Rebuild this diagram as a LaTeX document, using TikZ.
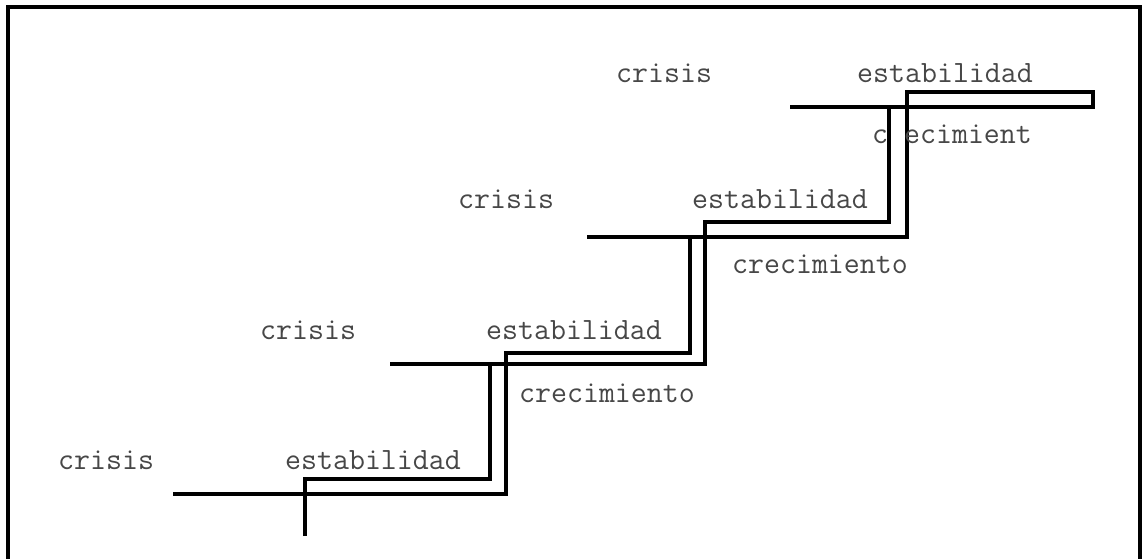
\documentclass[tikz,border=0pt]{standalone}
\usepackage{fontspec}
\begin{document}
\begin{tikzpicture}[x=1pt,y=-1pt,
  stair/.style={line width=3.2pt, line join=miter},
  frameline/.style={line width=3.2pt},
  lbl/.style={font=\ttfamily\fontsize{31}{34}\selectfont, text=black!72, anchor=base west, inner sep=0pt}]
\useasboundingbox (0,0) rectangle (1146,558);
% frame (open at the bottom)
\coordinate (fbl) at (8,562);
\coordinate (ftl) at (8,7);
\coordinate (ftr) at (1140,7);
\coordinate (fbr) at (1140,562);
\draw[frameline] (fbl) -- (ftl) -- (ftr) -- (fbr);
% stair corners
\coordinate (a0) at (305,536);
\coordinate (a1) at (305,479);
\coordinate (a2) at (490,479);
\coordinate (a3) at (490,364);
\coordinate (b0) at (173,494);
\coordinate (b1) at (506,494);
\coordinate (b2) at (506,353);
\coordinate (b3) at (690,353);
\coordinate (b4) at (690,237);
\coordinate (c0) at (390,364);
\coordinate (c1) at (705,364);
\coordinate (c2) at (705,222);
\coordinate (c3) at (889,222);
\coordinate (c4) at (889,107);
\coordinate (d0) at (587,237);
\coordinate (d1) at (907,237);
\coordinate (d2) at (907,92);
\coordinate (d3) at (1093,92);
\coordinate (d4) at (1093,107);
\coordinate (d5) at (790,107);
\draw[stair] (a0) -- (a1) -- (a2) -- (a3);
\draw[stair] (b0) -- (b1) -- (b2) -- (b3) -- (b4);
\draw[stair] (c0) -- (c1) -- (c2) -- (c3) -- (c4);
\draw[stair] (d0) -- (d1) -- (d2) -- (d3) -- (d4) -- (d5);
% labels
\node[lbl] (crisis1) at (58,469) {crisis};
\node[lbl] (estab1) at (285,469) {estabilidad};
\node[lbl] (crisis2) at (260,339) {crisis};
\node[lbl] (estab2) at (486,339) {estabilidad};
\node[lbl] (crec2) at (519,402) {crecimiento};
\node[lbl] (crisis3) at (458,208) {crisis};
\node[lbl] (estab3) at (692,208) {estabilidad};
\node[lbl] (crec3) at (732,273) {crecimiento};
\node[lbl] (crisis4) at (616,82) {crisis};
\node[lbl] (estab4) at (857,82) {estabilidad};
\node[lbl] (crec4) at (872,143) {c ecimient};
\end{tikzpicture}
\end{document}
